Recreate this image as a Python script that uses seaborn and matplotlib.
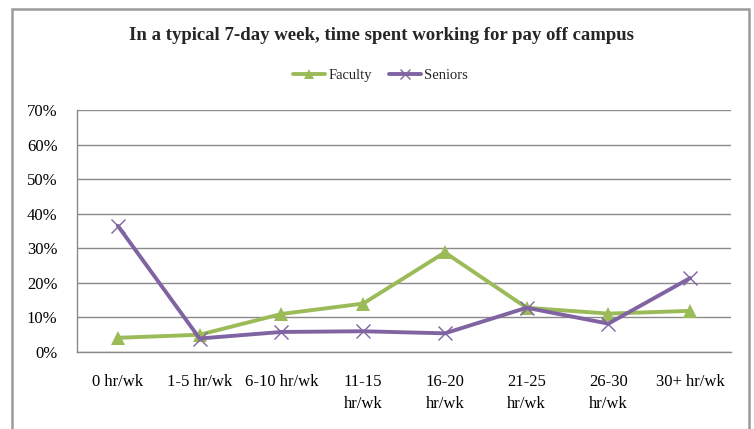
import matplotlib
matplotlib.use("Agg")
import matplotlib.pyplot as plt
import seaborn as sns
import pandas as pd
from matplotlib.patches import Rectangle
from matplotlib.ticker import PercentFormatter
from matplotlib.lines import Line2D

categories = ["0 hr/wk", "1-5 hr/wk", "6-10 hr/wk", "11-15\nhr/wk",
              "16-20\nhr/wk", "21-25\nhr/wk", "26-30\nhr/wk", "30+ hr/wk"]
faculty = [4.1, 5.0, 11.0, 14.0, 28.8, 12.8, 11.1, 11.9]
seniors = [36.5, 3.9, 5.8, 6.0, 5.4, 12.8, 8.2, 21.4]
series_names = ["Faculty", "Seniors"]
title = "In a typical 7-day week, time spent working for pay off campus"

df_fac = pd.DataFrame({"x": range(len(categories)), "value": faculty})
df_sen = pd.DataFrame({"x": range(len(categories)), "value": seniors})

sns.set_theme(style="white")
plt.rcParams["font.family"] = ["Liberation Serif", "DejaVu Serif"]

fig = plt.figure(figsize=(7.54, 4.29), dpi=100)
ax = fig.add_axes([77/754, 1-352/429, (731-77)/754, (352-110)/429])

green = "#9BBB59"
purple = "#8064A2"

sns.lineplot(data=df_fac, x="x", y="value", ax=ax, color=green,
             linewidth=2.8, marker="^", markersize=10, markeredgewidth=0,
             markerfacecolor=green, zorder=3)
sns.lineplot(data=df_sen, x="x", y="value", ax=ax, color=purple,
             linewidth=2.8, marker="x", markersize=10, markeredgewidth=1.0,
             markeredgecolor=purple, zorder=4)

ax.set_xlim(-0.5, len(categories) - 0.5)
ax.set_ylim(0, 70)
ax.set_yticks(range(0, 71, 10))
ax.yaxis.set_major_formatter(PercentFormatter(decimals=0))
ax.set_xticks(range(len(categories)))
ax.set_xticklabels(categories)
ax.set_xlabel("")
ax.set_ylabel("")
ax.grid(axis="y", color="#8a8a8a", linewidth=1.0)
ax.set_axisbelow(True)
for s in ["top", "right"]:
    ax.spines[s].set_visible(False)
for s in ["left", "bottom"]:
    ax.spines[s].set_color("#8a8a8a")
    ax.spines[s].set_linewidth(1.0)
ax.tick_params(axis="both", length=0, labelsize=12, colors="black")
ax.tick_params(axis="x", pad=16)
ax.tick_params(axis="y", pad=14)
for lab in ax.get_xticklabels():
    lab.set_verticalalignment("top")
    lab.set_linespacing(1.45)

fig.text(0.506, 1-35/429, title, ha="center", va="center",
         fontsize=13.5, fontweight="bold")

handles = [
    Line2D([], [], color=green, marker="^", linewidth=2.8, markersize=7,
           markeredgewidth=0),
    Line2D([], [], color=purple, marker="x", linewidth=2.8, markersize=7,
           markeredgewidth=1.0),
]
fig.legend(handles, series_names, loc="center", bbox_to_anchor=(0.505, 1-75/429),
           ncol=2, frameon=False, fontsize=10.5, handlelength=2.2,
           handletextpad=0.2, columnspacing=1.2)

fig.patches.append(Rectangle((12/754, -0.05), 737/754, 1.05 - 9/429,
                             transform=fig.transFigure, fill=False,
                             edgecolor="#9a9a9a", linewidth=1.8))

fig.savefig("out.png", dpi=100)
